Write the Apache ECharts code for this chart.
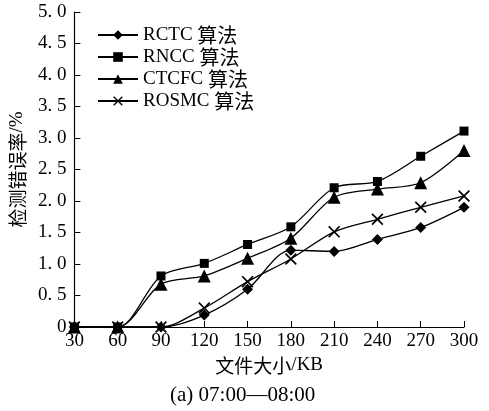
<!DOCTYPE html>
<html><head><meta charset="utf-8">
<script src="https://cdn.jsdelivr.net/npm/echarts@6/dist/echarts.min.js"></script>
<style>html,body{margin:0;padding:0;background:#fff}#c{width:489px;height:411px}</style>
</head><body><div id="c"></div>
<script>
const categories = ['30','60','90','120','150','180','210','240','270','300'];
const rctc  = [0, 0, 0, 0.19, 0.60, 1.22, 1.20, 1.39, 1.58, 1.90];
const rncc  = [0, 0, 0.81, 1.01, 1.31, 1.59, 2.21, 2.31, 2.71, 3.11];
const ctcfc = [0, 0, 0.68, 0.81, 1.09, 1.41, 2.06, 2.19, 2.29, 2.80];
const rosmc = [0, 0, 0, 0.30, 0.72, 1.08, 1.51, 1.71, 1.90, 2.08];
const seriesNames = ['RCTC 算法', 'RNCC 算法', 'CTCFC 算法', 'ROSMC 算法'];
const xNameCJK = '文件大小', xNameLat = '/KB';
const yNameCJK = '检测错误率', yNameLat = '/%';
const caption = '(a) 07:00—08:00';

const FONT = '"Liberation Serif", "Noto Sans CJK SC", serif';
const CJK = '"Noto Sans CJK SC", serif';
const crossPath = 'path://M0,1 L1,0 L5,4 L9,0 L10,1 L6,5 L10,9 L9,10 L5,6 L1,10 L0,9 L4,5 Z';
const symbols = ['diamond', 'rect', 'triangle', crossPath];
const sizes = [11, 9, 13, 12];
const data = [rctc, rncc, ctcfc, rosmc];

const rich = {
  l: { fontFamily: FONT, fontSize: 19, color: '#000' },
  c: { fontFamily: CJK, fontSize: 19, color: '#000' }
};

const chart = echarts.init(document.getElementById('c'));
chart.setOption({
  backgroundColor: '#fff',
  animation: false,
  textStyle: { fontFamily: FONT, color: '#000' },
  grid: { left: 73, right: 25, top: 12, bottom: 84 },
  legend: {
    orient: 'vertical', left: 92, top: 20,
    itemWidth: 40, itemHeight: 12, itemGap: 2,
    textStyle: { fontFamily: FONT, fontSize: 19, color: '#000', rich: {
      l: { fontFamily: FONT, fontSize: 19, color: '#000', lineHeight: 19 },
      c: { fontFamily: CJK, fontSize: 20, color: '#000', lineHeight: 19 }
    } },
    formatter: n => { const p = n.split(' '); return '{l|' + p[0] + ' }{c|' + p[1] + '}'; },
    data: seriesNames
  },
  xAxis: {
    type: 'category', data: categories, boundaryGap: false,
    name: '{c|' + xNameCJK + '}{l|' + xNameLat + '}', nameLocation: 'middle', nameGap: 23,
    nameTextStyle: { rich },
    axisLine: { lineStyle: { color: '#000', width: 1.2 } },
    axisTick: { inside: true, length: 6, lineStyle: { color: '#000' } },
    axisLabel: { fontFamily: FONT, fontSize: 19, color: '#000', margin: 5 },
    splitLine: { show: false }
  },
  yAxis: {
    type: 'value', min: 0, max: 5, interval: 0.5,
    name: '{c|' + yNameCJK + '}{l|' + yNameLat + '}', nameLocation: 'middle', nameGap: 43, nameRotate: 90,
    nameTextStyle: { rich },
    axisLine: { show: true, lineStyle: { color: '#000', width: 1.2 } },
    axisTick: { show: true, inside: true, length: 6, lineStyle: { color: '#000' } },
    axisLabel: {
      fontFamily: FONT, fontSize: 19, color: '#000', margin: 8,
      formatter: v => v === 0 ? '0' : v.toFixed(1).replace('.', '. ')
    },
    splitLine: { show: false }
  },
  graphic: [{
    type: 'text', left: 170, top: 385,
    style: { text: caption, font: '21px ' + FONT, fill: '#000' }
  }],
  series: data.map((d, i) => ({
    name: seriesNames[i], type: 'line', data: d,
    smooth: 0.3,
    symbol: symbols[i], symbolSize: sizes[i], showAllSymbol: true,
    lineStyle: { color: '#000', width: 1.3 },
    itemStyle: { color: '#000' }
  }))
});
</script></body></html>
